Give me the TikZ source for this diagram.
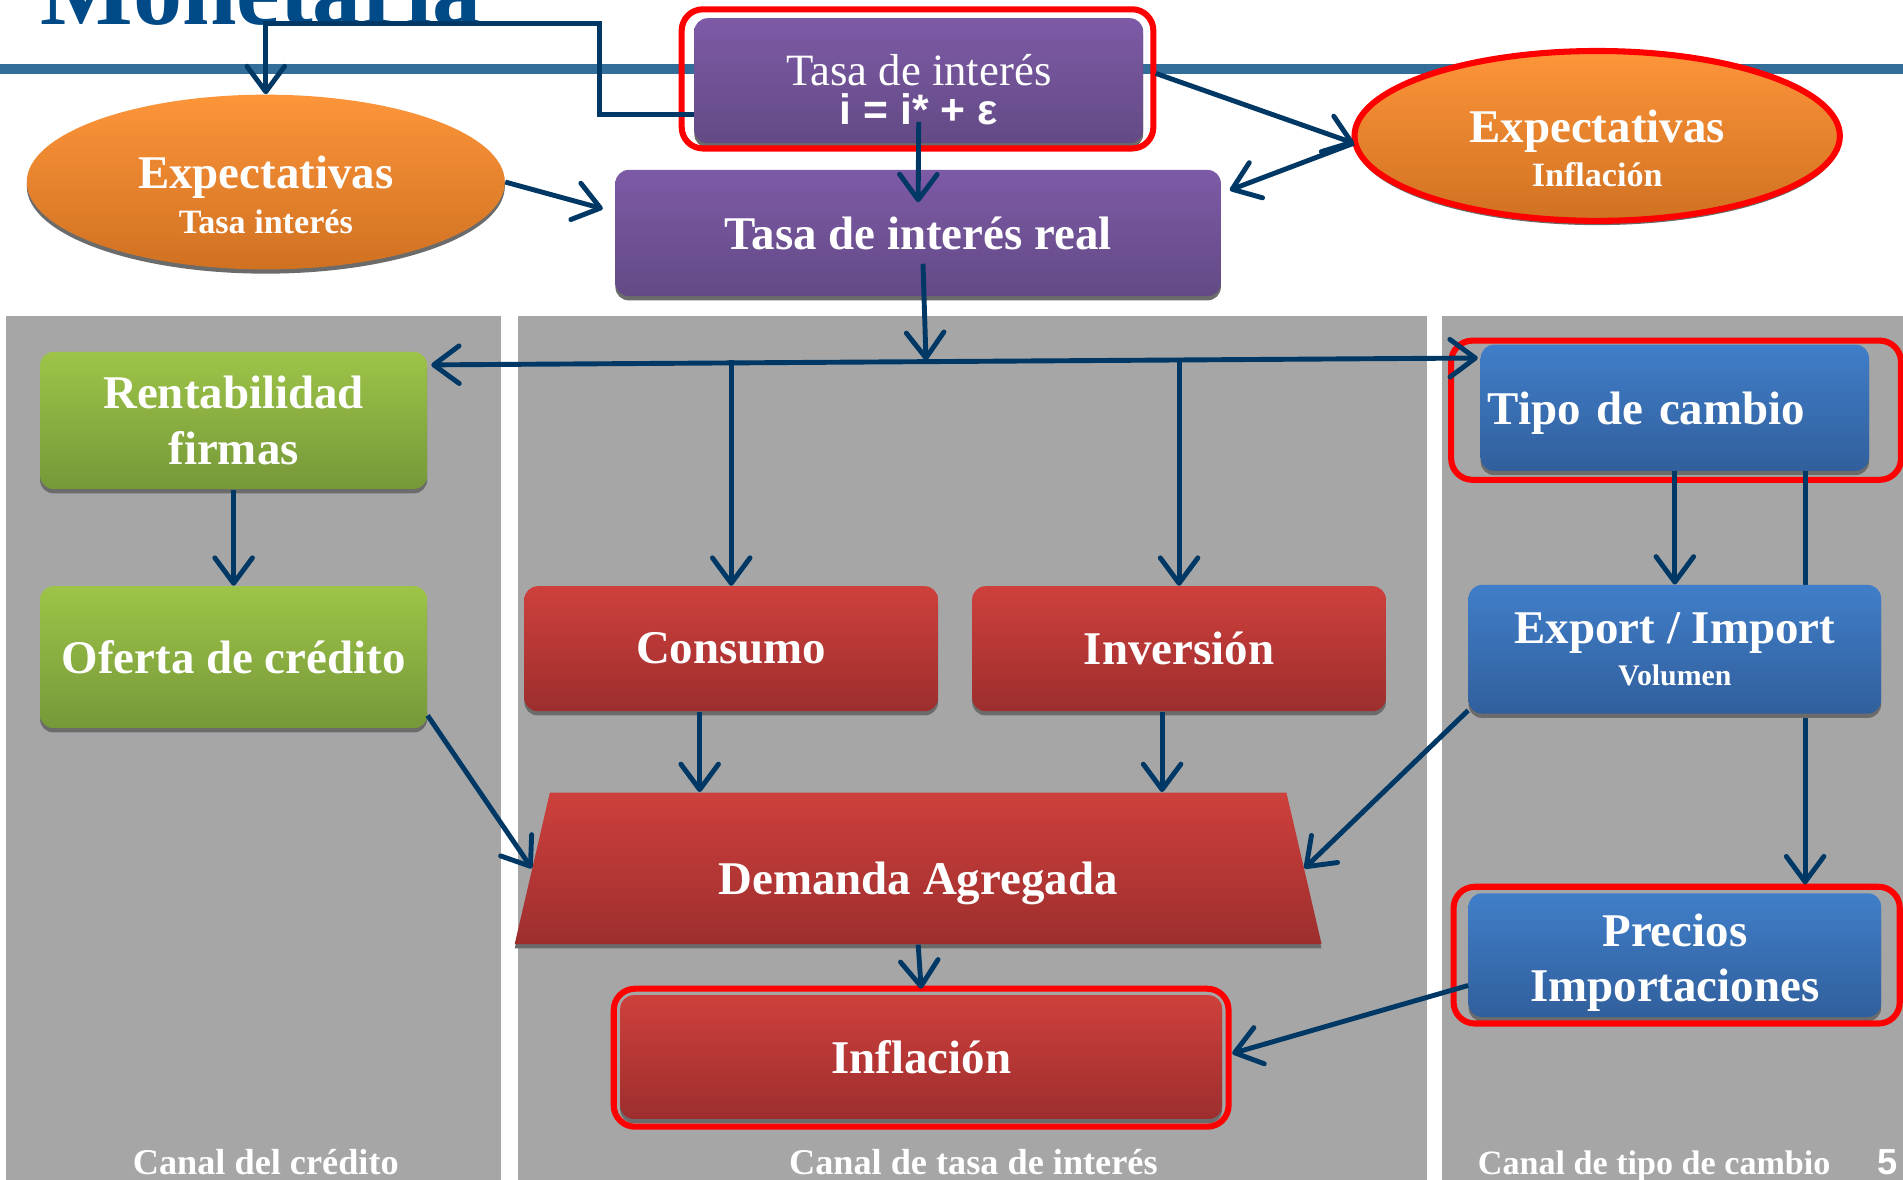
\documentclass[tikz,border=0pt]{standalone}
\usepackage{fontspec}
\setmainfont{Liberation Serif}
\newfontfamily\eqfont{Liberation Sans}
\usetikzlibrary{arrows.meta,calc,shapes.geometric,shadows}

\definecolor{navy}{RGB}{0,56,101}
\definecolor{titleblue}{RGB}{0,75,135}
\definecolor{ruleblue}{RGB}{51,110,155}
\definecolor{panelgray}{RGB}{166,166,166}
\definecolor{purpletop}{RGB}{125,90,166}
\definecolor{purplebot}{RGB}{99,74,133}
\definecolor{orangetop}{RGB}{253,149,58}
\definecolor{orangebot}{RGB}{208,113,33}
\definecolor{greentop}{RGB}{157,196,72}
\definecolor{greenbot}{RGB}{118,152,57}
\definecolor{redtop}{RGB}{206,64,60}
\definecolor{redbot}{RGB}{157,46,46}
\definecolor{bluetop}{RGB}{64,126,201}
\definecolor{bluebot}{RGB}{49,95,156}

\tikzset{
  boxshadow/.style={drop shadow={shadow xshift=0pt,shadow yshift=-0.07cm,opacity=1,fill=black!58}},
  box/.style={rounded corners=0.22cm,text=white,align=center,inner sep=0pt,
    font=\bfseries\fontsize{22}{24}\selectfont,boxshadow},
  purplebox/.style={box,top color=purpletop,bottom color=purplebot},
  greenbox/.style={box,top color=greentop,bottom color=greenbot},
  redbox/.style={box,top color=redtop,bottom color=redbot},
  bluebox/.style={box,top color=bluetop,bottom color=bluebot},
  expect/.style={ellipse,text=white,align=center,inner sep=0pt,
    font=\bfseries\fontsize{22}{24}\selectfont,top color=orangetop,bottom color=orangebot,boxshadow},
  ring/.style={draw=red,line width=0.1cm,rounded corners=0.35cm},
  link/.style={draw=navy,line width=2.3pt,->},
  canal/.style={text=white,anchor=base,inner sep=0pt,font=\bfseries\fontsize{17}{17}\selectfont},
  >={Straight Barb[length=0.42cm,width=0.62cm,round]}
}
% pushes the text of a node down
\newcommand{\lift}[1]{\rule{0pt}{#1}}

\begin{document}
\begin{tikzpicture}[x=0.02cm,y=-0.02cm]
\useasboundingbox (0,0) rectangle (1568,972);
\fill[white] (0,0) rectangle (1568,972);

% title and rule
\fill[ruleblue] (0,53) rectangle (1568,61);
\node[anchor=base west,inner sep=0pt,text=titleblue,font=\bfseries\fontsize{46}{46}\selectfont] (titulo) at (33,20.6) {Monetaria};

% channels
\fill[panelgray] (5,260) rectangle (413,972);
\fill[panelgray] (427,260) rectangle (1176,972);
\fill[panelgray] (1188,260) rectangle (1568,972);
\node[canal] (lblcred) at (219,968) {Canal del crédito};
\node[canal] (lbltasa) at (802,968) {Canal de tasa de interés};
\node[canal,font=\bfseries\fontsize{16}{16}\selectfont] (lbltipo) at (1363,968) {Canal de tipo de cambio};
\node[canal,font=\eqfont\bfseries\fontsize{17}{17}\selectfont] (pagina) at (1555,968) {5};

\node[purplebox,minimum width=7.4cm,minimum height=2.06cm] (tasa) at (757,66.5)
  {{\mdseries\fontsize{21}{21}\selectfont\lift{23pt}Tasa de interés}\\[-6pt]{\eqfont\fontsize{20}{20}\selectfont i = i* + ε}};
\node[expect,minimum width=7.88cm,minimum height=2.88cm] (exptasa) at (219,150)
  {\lift{27pt}Expectativas\\[-3pt]{\fontsize{16}{16}\selectfont Tasa interés}};
\node[purplebox,minimum width=9.98cm,minimum height=2.08cm] (real) at (756.5,192) {Tasa de interés real};
\node[expect,draw=red,line width=0.1cm,minimum width=8cm,minimum height=2.8cm] (expinf) at (1316,112)
  {\lift{27pt}Expectativas\\[-3pt]{\fontsize{16}{16}\selectfont Inflación}};

\node[greenbox,minimum width=6.38cm,minimum height=2.26cm] (rent) at (192.5,346.5) {Rentabilidad\\[2pt]firmas};
\node[greenbox,minimum width=6.38cm,minimum height=2.34cm] (oferta) at (192.5,541.5) {Oferta de crédito};

\node[redbox,minimum width=6.82cm,minimum height=2.06cm] (consumo) at (602.5,534.5) {Consumo};
\node[redbox,minimum width=6.82cm,minimum height=2.06cm] (inversion) at (971.5,534.5) {Inversión};
\node[trapezium,trapezium stretches body=true,trapezium left angle=64,trapezium right angle=64,
  minimum width=13.3cm,minimum height=2.5cm,inner sep=0pt,top color=redtop,bottom color=redbot,
  text=white,font=\bfseries\fontsize{22}{24}\selectfont,boxshadow] (da) at (756.5,715.5) {\lift{29pt}Demanda Agregada};
\node[redbox,minimum width=9.92cm,minimum height=2.04cm] (inflacion) at (759,871) {Inflación};

\node[bluebox,minimum width=6.4cm,minimum height=2.08cm,text width=6.16cm,align=left,inner xsep=0.12cm] (tipo) at (1380,336) {\lift{20.5pt}Tipo de cambio};
\node[bluebox,minimum width=6.8cm,minimum height=2.04cm] (precios) at (1380,787) {\lift{22.5pt}Precios\\[2pt]Importaciones};

% highlighted
\draw[ring] ($(tasa.south west)+(-10,4)$) rectangle ($(tasa.north east)+(8,-7)$);
\draw[ring] ($(tipo.south west)+(-24,7)$) rectangle ($(tipo.north east)+(26,-3)$);
\draw[ring] ($(precios.south west)+(-12,5)$) rectangle ($(precios.north east)+(15,-5)$);
\draw[ring] ($(inflacion.south west)+(-5,6)$) rectangle ($(inflacion.north east)+(5,-5)$);

\coordinate (t2) at ($(tipo.south east)+(-53,0)$);
\draw[link] (t2) -- ($(t2 |- precios.north)+(0,-7)$);
\node[bluebox,minimum width=6.8cm,minimum height=2.12cm] (export) at (1380,535)
  {Export / Import\\[-4pt]{\fontsize{14}{14}\selectfont Volumen}};

% arrows
\coordinate (bend) at (494,19);
\draw[link] ($(tasa.west)+(0,27.5)$) -| (bend) -| (exptasa.north);
\draw[link] ($(tasa.south)+(0,-18)$) -- ($(real.north)+(0,27)$);
\draw[link] ($(tasa.east)+(10,-6)$) -- ($(expinf.west)+(2,6)$);
\draw[link] ($(expinf.west)+(2,6)$) -- ($(real.north east)+(7,17)$);
\draw[link] (exptasa.east) -- ($(real.west)+(-10,-20)$);

\coordinate (bus) at (763,297);
\draw[link] ($(real.south)+(4,-27)$) -- (bus);
\draw[link,<->] ($(rent.north east)+(3,11)$) -- ($(tipo.west)+(-2,-41)$);
\draw[link] (consumo.north |- bus) -- (consumo.north);
\draw[link] (inversion.north |- bus) -- (inversion.north);

\draw[link] (rent.south) -- (oferta.north);
\draw[link] ($(oferta.east)+(0,48)$) -- (da.left side);
\coordinate (c1) at ($(consumo.south)+(-26,0)$);
\draw[link] (c1) -- (c1 |- da.north);
\coordinate (c2) at ($(inversion.south)+(-14,0)$);
\draw[link] (c2) -- (c2 |- da.north);
\draw[link] ($(export.south west)+(0,-3)$) -- (da.right side);
\draw[link] (tipo.south) -- (export.north);
\draw[link] (da.south) -- ($(inflacion.north)+(0,-5)$);
\draw[link] ($(precios.west)+(0,25)$) -- ($(inflacion.east)+(8,-3)$);
\end{tikzpicture}
\end{document}
